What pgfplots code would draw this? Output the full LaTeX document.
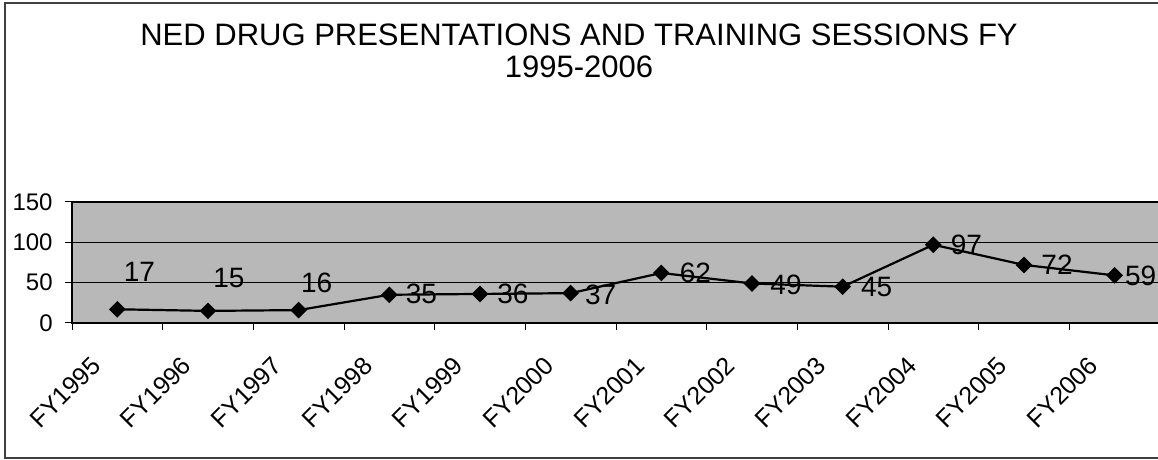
\documentclass[border=0pt]{standalone}
\usepackage{fontspec}
\setmainfont{Liberation Sans}
\usepackage{pgfplots}
\pgfplotsset{compat=1.18}
\usepackage{pgfplotstable}

\pgfplotstableread{
x y dx dy
0 17 11 18.5
1 15 10.5 16.5
2 16 9 13.5
3 35 16 0.5
4 36 16.5 0
5 37 15 -1
6 62 17 0
7 49 17 -0.5
8 45 17 0
9 97 16.5 0
10 72 16.5 0
11 59 13 0
}\datatable

\begin{document}
\begin{tikzpicture}[x=1pt,y=1pt]
\useasboundingbox (0,0) rectangle (579,230);
\draw[black!75, line width=0.6pt] (2.5,1) rectangle (600,228.5);
\node[anchor=base, inner sep=0pt, font=\fontsize{15.5}{16}\selectfont] at (289.5,207) {NED DRUG PRESENTATIONS AND TRAINING SESSIONS FY};
\node[anchor=base, inner sep=0pt, font=\fontsize{15.5}{16}\selectfont] at (289.5,191) {1995-2006};
\begin{axis}[
  at={(36pt,68.5pt)}, anchor=south west,
  scale only axis, width=544pt, height=60.5pt,
  xmin=-0.5, xmax=11.5, ymin=0, ymax=150,
  ytick={0,50,100,150},
  xtick={-0.5,0.5,...,11.5}, xticklabels={},
  extra x ticks={0,1,2,3,4,5,6,7,8,9,10,11},
  extra x tick labels={FY1995,FY1996,FY1997,FY1998,FY1999,FY2000,FY2001,FY2002,FY2003,FY2004,FY2005,FY2006},
  extra x tick style={major tick length=0pt, grid=none,
    tick label style={xshift=-10.5pt, yshift=-19pt, rotate=45, anchor=east, inner sep=0pt, font=\fontsize{12.5}{12.5}\selectfont}},
  ymajorgrids, grid style={black, line width=0.5pt},
  tick align=outside, major tick length=3.5pt, tick pos=left,
  tick style={black, line width=0.5pt},
  axis line style={black, line width=0.6pt},
  axis background/.style={fill=black!28},
  tick label style={font=\fontsize{12}{12}\selectfont},
  yticklabel style={anchor=east, inner sep=0pt, xshift=-6pt},
  /pgf/number format/assume math mode=true,
  clip=false,
]
\addplot[black, line width=1.1pt, mark=square*, mark size=2.4pt,
  mark options={rotate=45, solid},
  nodes near coords, point meta=explicit symbolic,
  visualization depends on={\thisrow{dx}\as\dx},
  visualization depends on={\thisrow{dy}\as\dy},
  every node near coord/.append style={anchor=center, xshift=\dx pt, yshift=\dy pt,
    font=\fontsize{14}{14}\selectfont, text=black, inner sep=0pt}]
  table[x=x, y=y, meta=y] {\datatable};
\end{axis}
\end{tikzpicture}
\end{document}
